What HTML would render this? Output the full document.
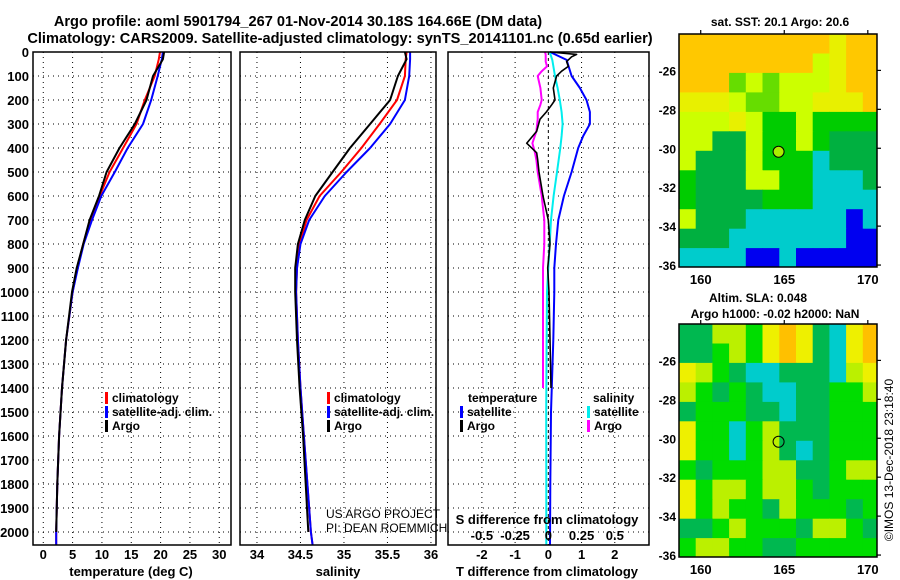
<!DOCTYPE html>
<html><head><meta charset="utf-8">
<style>
html,body{margin:0;padding:0;background:#fff;}
svg{display:block;font-family:"Liberation Sans",Arial,sans-serif;}
.b{font-weight:bold;}
</style></head>
<body>
<svg id="fig" width="900" height="580" viewBox="0 0 900 580" xmlns="http://www.w3.org/2000/svg">
<text class="b" x="298" y="26" font-size="14.6" text-anchor="middle">Argo profile: aoml 5901794_267 01-Nov-2014 30.18S 164.66E (DM data)</text>
<text class="b" x="340" y="43" font-size="14.6" text-anchor="middle">Climatology: CARS2009. Satellite-adjusted climatology: synTS_20141101.nc (0.65d earlier)</text>
<g id="g"></g>
</svg>
<script>
// ---- profile data ----
const tDepth   = [0,30,100,200,300,400,500,600,700,800,900,1000,1200,1400,1600,1800,2000,2054];
const tClim    = [19.9,19.7,19.0,17.3,15.9,13.6,11.3,9.6,8.0,6.8,5.8,5.0,3.9,3.2,2.7,2.4,2.2,2.2];
const tSat     = [20.4,20.2,19.5,18.4,17.0,14.4,12.2,9.9,8.3,6.9,5.9,5.0,3.9,3.2,2.7,2.4,2.2,2.2];
const argoDepth= [0,30,100,200,300,400,500,600,700,800,900,1000,1200,1400,1600,1800,2000];
const tArgo    = [20.6,20.4,18.7,17.6,15.6,13.0,10.8,9.5,7.9,6.8,5.7,4.9,3.9,3.2,2.7,2.4,2.2];
const sClim    = [35.72,35.71,35.70,35.61,35.41,35.20,34.97,34.72,34.57,34.49,34.46,34.45,34.47,34.50,34.54,34.58,34.62,34.64];
const sSat     = [35.76,35.76,35.75,35.70,35.53,35.30,35.03,34.78,34.60,34.50,34.46,34.45,34.47,34.50,34.54,34.58,34.62,34.64];
const sArgo    = [35.70,35.72,35.62,35.53,35.30,35.07,34.87,34.67,34.55,34.47,34.44,34.44,34.46,34.49,34.53,34.56,34.59];
// ---- difference data ----
const dDepth   = [0,33,100,150,200,250,300,350,400,500,600,700,800,900,1000,1200,1500,1800,2054];
const dTsat    = [0.05,0.55,0.7,0.95,1.15,1.25,1.25,1.05,0.9,0.7,0.47,0.3,0.23,0.18,0.18,0.15,0.08,0.06,0.05];
const dSsat    = [0.01,0.03,0.05,0.07,0.086,0.1,0.107,0.1,0.09,0.065,0.04,0.02,0.01,0.0,-0.01,-0.013,-0.016,-0.015,-0.015];
const daDepth  = [0,10,20,40,60,80,100,150,200,220,250,280,330,380,420,450,500,600,700,800,900,1000,1200,1400];
const dTargo   = [0.05,0.85,0.7,0.55,0.6,0.4,0.25,0.15,0.2,0.1,-0.06,-0.25,-0.35,-0.65,-0.35,-0.32,-0.28,-0.16,0.0,0.05,-0.02,0.02,0.05,0.08];
const dSargo   = [-0.026,-0.02,-0.02,-0.02,-0.01,-0.05,-0.08,-0.06,-0.05,-0.06,-0.08,-0.08,-0.09,-0.12,-0.10,-0.09,-0.08,-0.05,-0.03,-0.03,-0.04,-0.04,-0.04,-0.04];
// ---- ticks ----
const depthTicks = [0,100,200,300,400,500,600,700,800,900,1000,1100,1200,1300,1400,1500,1600,1700,1800,1900,2000];
const tTicks = [0,5,10,15,20,25,30];
const sTicks = [34,34.5,35,35.5,36];
const sTickLabels = ["34","34.5","35","35.5","36"];
const dTTicks = [-2,-1,0,1,2];
const dSTicks = [-0.5,-0.25,0,0.25,0.5];
const dSTickLabels = ["-0.5","-0.25","0","0.25","0.5"];
// ---- map data (1-degree cells, rows from -24.1 southward, cols from 158.7 east) ----
const mapLatTicks = [-26,-28,-30,-32,-34,-36];
const mapLonTicks = [160,165,170];
const argoLon = 164.66, argoLat = -30.18;
const sstGrid = [
"OOOOOOOOOYOO",
"OOOOOOOOLYOO",
"OOOGLGLLLYOO",
"YYYLGGLLYYYO",
"LLLYLDDLDDDD",
"LLTTLDDLDTTT",
"LTTTLDDDCTTT",
"DTTTLLDDCCCT",
"DTTTTDDDCCCC",
"LTTTCCCCCCBC",
"TTTCCCCCCCBB",
"CCCCBBCBBBBB"];
const slaGrid = [
"TTLLGYOYTCYO",
"TTGLGYOYTCYO",
"YLGTCCTTTCLY",
"LGTGTCCTTGGL",
"TGGGTTCTTGGG",
"YGGCGLTTTGGG",
"YGGCGLTCTGGG",
"GTGGGLLTTGLL",
"YGLLGLLGTGGG",
"YGLGGTLGGGTG",
"TTGLGGGTLLGT",
"GLLGGTTGGGGG"];
const sstColors = {O:"#ffc800",Y:"#e8f000",L:"#ccff00",G:"#66dd00",D:"#00cc00",T:"#00b040",C:"#00cccc",B:"#0000f0"};
const slaColors = {O:"#ffc000",Y:"#eef000",L:"#bbf000",G:"#00dd00",T:"#00b850",C:"#00cccc"};

const NS="http://www.w3.org/2000/svg";
const G=document.getElementById('g');
function el(tag,attrs,parent){const e=document.createElementNS(NS,tag);for(const k in attrs)e.setAttribute(k,attrs[k]);(parent||G).appendChild(e);return e;}
function txt(s,x,y,size,anchor,bold,parent){const e=el('text',{x:x,y:y,'font-size':size,'text-anchor':anchor||'middle'},parent);if(bold!==false)e.setAttribute('font-weight','bold');e.textContent=s;return e;}
const Y0=52, YB=545;
function yD(d){return Y0+d*0.24;}

function panel(name,x0,x1,xmin,xmax){
  const g=el('g',{});
  
  
  const sx=v=>x0+(v-xmin)/(xmax-xmin)*(x1-x0);
  return {g,sx,x0,x1};
}
function grid(p,xs){
  depthTicks.forEach(d=>{ if(d>0){const l=el('line',{x1:p.x0,x2:p.x1,y1:yD(d),y2:yD(d),stroke:'#000','stroke-width':1,'stroke-dasharray':'1,4'},p.g);
    }});
  xs.forEach(v=>{const l=el('line',{x1:p.sx(v),x2:p.sx(v),y1:Y0,y2:YB,stroke:'#000','stroke-width':1,'stroke-dasharray':'1,4'},p.g);
    });
}
function frame(p){const r=el('rect',{x:p.x0,y:Y0,width:p.x1-p.x0,height:YB-Y0,fill:'none',stroke:'#000','stroke-width':1.5},p.g);
  }
function line(p,xs,ds,col,name,w){
  const pts=xs.map((v,i)=>p.sx(v).toFixed(1)+','+yD(ds[i]).toFixed(1)).join(' ');
  const l=el('polyline',{points:pts,fill:'none',stroke:col,'stroke-width':w||2,'stroke-linejoin':'round'},p.g);
  
}
function legendEntry(parent,x,y,col,label,name){
  const g=el('g',{},parent);
  
  el('rect',{x:x,y:y-10,width:3,height:12,fill:col},g);
  txt(label,x+7,y,12,'start',true,g);
}

// Panel 1 temperature
const p1=panel('temperature-panel',33,231,-1.75,32);
grid(p1,tTicks);
line(p1,tClim,tDepth,'#ff0000','clim-temperature-line');
line(p1,tSat,tDepth,'#0000ff','satellite-temperature-line');
line(p1,tArgo,argoDepth,'#000000','argo-temperature-line');
frame(p1);
depthTicks.forEach(d=>{const t=txt(String(d),29,yD(d)+5,13,'end',true,p1.g);});
tTicks.forEach(v=>{const t=txt(String(v),p1.sx(v),559,13,'middle',true,p1.g);});
{const t=txt('temperature (deg C)',131,576,13,'middle',true,p1.g);}
legendEntry(p1.g,105,402,'#ff0000','climatology','legend-climatology');
legendEntry(p1.g,105,416,'#0000ff','satellite-adj. clim.','legend-satellite');
legendEntry(p1.g,105,430,'#000000','Argo','legend-argo');

// Panel 2 salinity
const p2=panel('salinity-panel',240,436,33.805,36.058);
grid(p2,sTicks);
line(p2,sClim,tDepth,'#ff0000','clim-salinity-line');
line(p2,sSat,tDepth,'#0000ff','satellite-salinity-line');
line(p2,sArgo,argoDepth,'#000000','argo-salinity-line');
frame(p2);
sTicks.forEach((v,i)=>{const t=txt(sTickLabels[i],p2.sx(v),559,13,'middle',true,p2.g);});
{const t=txt('salinity',338,576,13,'middle',true,p2.g);}
legendEntry(p2.g,327,402,'#ff0000','climatology','legend-climatology-2');
legendEntry(p2.g,327,416,'#0000ff','satellite-adj. clim.','legend-satellite-2');
legendEntry(p2.g,327,430,'#000000','Argo','legend-argo-2');
{const t=txt('US ARGO PROJECT',326,518,12,'start',false,p2.g);
 const t2=txt('PI: DEAN ROEMMICH',326,532,12,'start',false,p2.g);}

// Panel 3 differences (T axis -3..3, S axis = T/4)
const p3=panel('difference-panel',448,649,-3.02,3.03);
const sxS=v=>p3.sx(v*4);
grid(p3,[-2,-1,1,2]);
{const l=el('line',{x1:p3.sx(0),x2:p3.sx(0),y1:Y0,y2:YB,stroke:'#000','stroke-width':1,'stroke-dasharray':'3,3'},p3.g);}
line(p3,dTsat,dDepth,'#0000ff','satellite-temp-diff-line');
line(p3,dSsat.map(v=>v*4),dDepth,'#00eeee','satellite-sal-diff-line');
line(p3,dSargo.map(v=>v*4),daDepth,'#ff00ff','argo-sal-diff-line');
line(p3,dTargo,daDepth,'#000000','argo-temp-diff-line',1.6);
frame(p3);
dTTicks.forEach(v=>{const t=txt(String(v),p3.sx(v),559,13,'middle',true,p3.g);});
dSTicks.forEach((v,i)=>{const t=txt(dSTickLabels[i],sxS(v),540,13,'middle',true,p3.g);});
{const t=txt('S difference from climatology',547,524,13,'middle',true,p3.g);}
{const t=txt('T difference from climatology',547,576,13,'middle',true,p3.g);}
{const t=txt('temperature',468,402,12,'start',true,p3.g);}
{const t=txt('salinity',593,402,12,'start',true,p3.g);}
legendEntry(p3.g,460,416,'#0000ff','satellite','legend-temp-satellite');
legendEntry(p3.g,460,430,'#000000','Argo','legend-temp-argo');
legendEntry(p3.g,587,416,'#00eeee','satellite','legend-sal-satellite');
legendEntry(p3.g,587,430,'#ff00ff','Argo','legend-sal-argo');

// Maps
function drawMap(name,top,gridRows,colors,markerFill){
  const g=el('g',{});
  
  const L=679,R=877,H=233;
  const lonMin=158.7,lonMax=170.55,latTop=-24.13,latBot=-36.1;
  const mx=lon=>L+(lon-lonMin)/(lonMax-lonMin)*(R-L);
  const my=lat=>top+(latTop-lat)/(latTop-latBot)*H;
  gridRows.forEach((row,r)=>{
    for(let c=0;c<row.length;c++){
      const x=mx(lonMin+c),y=my(latTop-r);
      const cell=el('rect',{x:x.toFixed(1),y:y.toFixed(1),width:(mx(lonMin+c+1)-x+0.6).toFixed(1),height:(my(latTop-r-1)-y+0.6).toFixed(1),fill:colors[row[c]]},g);
      
    }
  });
  el('rect',{x:R,y:top-5,width:12,height:H+10,fill:'#fff'},g);
  el('rect',{x:L-5,y:top+H,width:R-L+20,height:8,fill:'#fff'},g);
  const fr=el('rect',{x:L,y:top,width:R-L,height:H,fill:'none',stroke:'#000','stroke-width':1.5},g);
  
  mapLatTicks.forEach(lat=>{
    el('line',{x1:R,x2:R+4,y1:my(lat),y2:my(lat),stroke:'#000','stroke-width':1.2},g);
    const t=txt(String(lat),676,my(lat)+5,12,'end',true,g);
    
  });
  mapLonTicks.forEach(lon=>{
    el('line',{x1:mx(lon),x2:mx(lon),y1:top,y2:top-4,stroke:'#000','stroke-width':1.2},g);
    const t=txt(String(lon),mx(lon),top+H+17,13,'middle',true,g);
    
  });
  const m=el('circle',{cx:mx(argoLon),cy:my(argoLat),r:5.5,fill:markerFill,stroke:'#000','stroke-width':1},g);
  
  return g;
}
drawMap('sst-map',34,sstGrid,sstColors,'#aaee00');
drawMap('sla-map',324,slaGrid,slaColors,'none');
{const t=txt('sat. SST: 20.1 Argo: 20.6',780,26,12,'middle',true);}
{const t=txt('Altim. SLA: 0.048',758,302,12,'middle',true);}
{const t=txt('Argo h1000: -0.02 h2000: NaN',775,318,12,'middle',true);}
{const t=txt('©IMOS 13-Dec-2018 23:18:40',0,0,12,'middle',false);t.setAttribute('transform','translate(893,460) rotate(-90)');}
</script>
</body></html>
